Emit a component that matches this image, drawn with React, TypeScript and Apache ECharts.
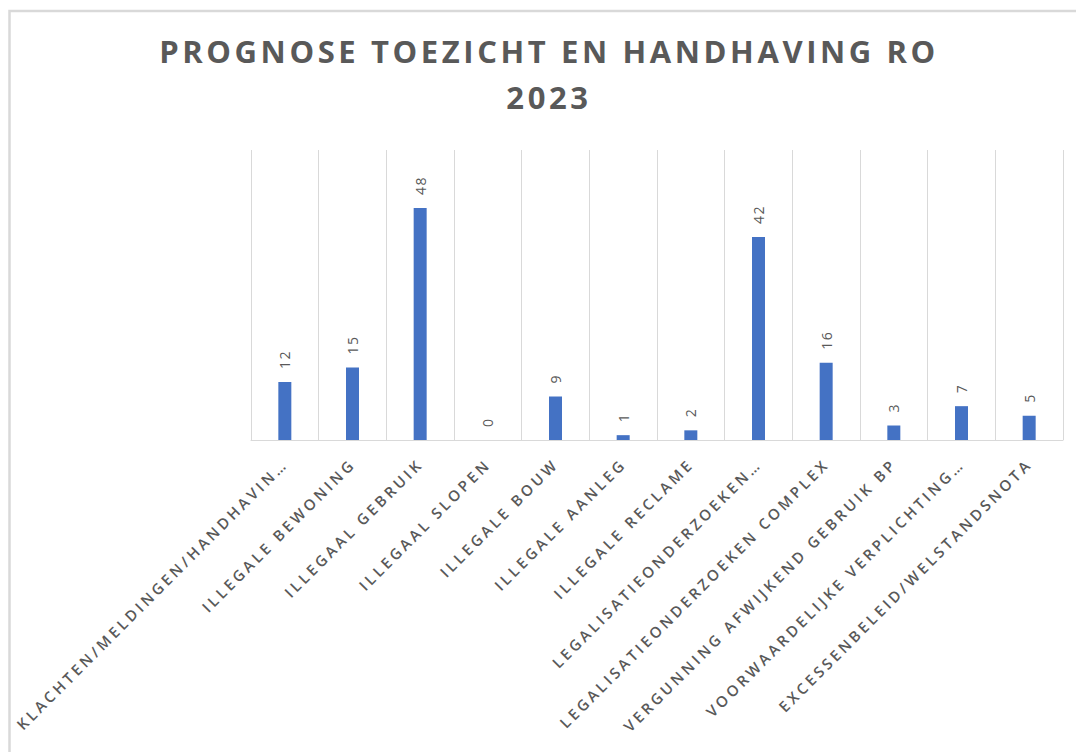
import React, { useEffect, useRef } from "react";
import * as echarts from "echarts";

const titleLines = ["PROGNOSE TOEZICHT EN HANDHAVING RO", "2023"];

const categories = [
  "KLACHTEN/MELDINGEN/HANDHAVIN…",
  "ILLEGALE BEWONING",
  "ILLEGAAL GEBRUIK",
  "ILLEGAAL SLOPEN",
  "ILLEGALE BOUW",
  "ILLEGALE AANLEG",
  "ILLEGALE RECLAME",
  "LEGALISATIEONDERZOEKEN…",
  "LEGALISATIEONDERZOEKEN COMPLEX",
  "VERGUNNING AFWIJKEND GEBRUIK BP",
  "VOORWAARDELIJKE VERPLICHTING…",
  "EXCESSENBELEID/WELSTANDSNOTA",
];

const values = [12, 15, 48, 0, 9, 1, 2, 42, 16, 3, 7, 5];

const FONT = "'Open Sans', 'Noto Sans', sans-serif";
const TEXT_COLOR = "#595959";
const GRID_COLOR = "#d9d9d9";
const BAR_COLOR = "#4472C4";

function applySpacing(root: HTMLElement) {
  const texts = root.querySelectorAll("text");
  texts.forEach((t) => {
    const s = (t.textContent || "").trim();
    let ls = "3.3px";
    if (titleLines.includes(s)) ls = "3.6px";
    else if (/^\d+$/.test(s)) ls = "1.5px";
    (t as SVGTextElement).style.letterSpacing = ls;
  });
}

export default function App() {
  const ref = useRef<HTMLDivElement>(null);

  useEffect(() => {
    document.body.style.margin = "0";
    const el = ref.current!;
    const chart = echarts.init(el, undefined, { renderer: "svg" });
    chart.setOption({
      animation: false,
      backgroundColor: "#ffffff",
      title: {
        text: titleLines.join("\n"),
        left: 549,
        top: 28,
        padding: 0,
        textAlign: "center",
        textVerticalAlign: "top",
        textStyle: {
          fontFamily: FONT,
          fontWeight: "bold",
          fontSize: 31,
          lineHeight: 46,
          color: TEXT_COLOR,
        },
      },
      graphic: [
        {
          type: "rect",
          silent: true,
          shape: { x: 9.5, y: 11, width: 1200, height: 900 },
          style: { fill: "none", stroke: "#d9d9d9", lineWidth: 2.5 },
        },
      ],
      grid: { left: 251, right: 13, top: 150, bottom: 312 },
      xAxis: {
        type: "category",
        data: categories,
        axisTick: { show: false },
        axisLine: { lineStyle: { color: GRID_COLOR, width: 1 } },
        splitLine: { show: true, lineStyle: { color: GRID_COLOR, width: 1 } },
        axisLabel: {
          interval: 0,
          rotate: 45,
          margin: 21,
          fontFamily: FONT,
          fontWeight: 600,
          fontSize: 15,
          color: TEXT_COLOR,
        },
      },
      yAxis: {
        type: "value",
        min: 0,
        max: 60,
        show: false,
        splitLine: { show: false },
      },
      series: [
        {
          type: "bar",
          data: values,
          barWidth: 13,
          itemStyle: { color: BAR_COLOR },
          label: {
            show: true,
            position: "top",
            distance: 13,
            rotate: 90,
            align: "left",
            verticalAlign: "middle",
            fontFamily: FONT,
            fontSize: 14,
            color: TEXT_COLOR,
          },
        },
      ],
    });
    applySpacing(el);
    chart.on("finished", () => applySpacing(el));
    const t = setTimeout(() => applySpacing(el), 50);
    return () => {
      clearTimeout(t);
      chart.dispose();
    };
  }, []);

  return <div ref={ref} style={{ width: 1076, height: 752 }} />;
}
